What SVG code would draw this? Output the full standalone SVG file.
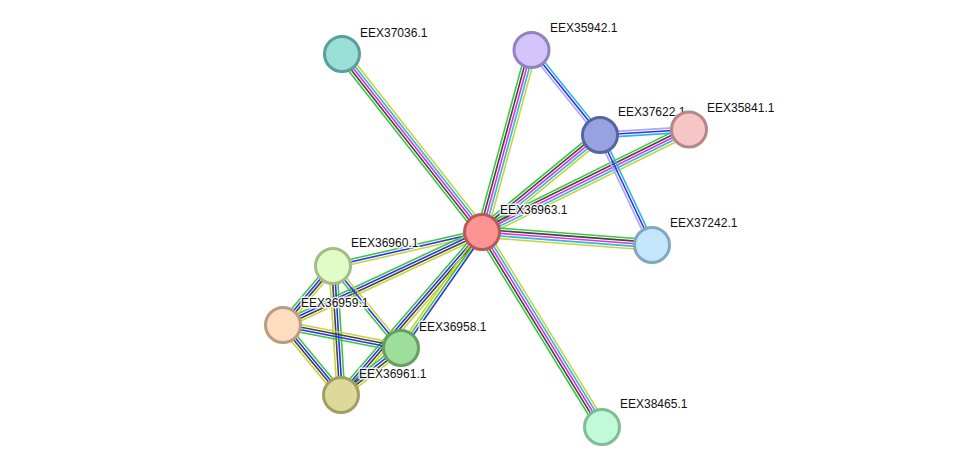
<svg xmlns="http://www.w3.org/2000/svg" width="976" height="472" viewBox="0 0 976 472">
<style>
line{stroke-width:1.6;fill:none}
.g{stroke:#3cc83c}.b{stroke:#3030f0}.k{stroke:#444}.m{stroke:#e030e0}.c{stroke:#30b8e0}.y{stroke:#c4d43c}.l{stroke:#a8a8f8}
circle{stroke-width:3}
text{font-family:"Liberation Sans",Arial,sans-serif;font-size:12px;fill:#111;stroke:rgba(255,255,255,0.85);stroke-width:3;paint-order:stroke;stroke-linejoin:round}
</style>
<rect width="976" height="472" fill="#fff"/>
<g id="connectors">
<g transform="translate(342,54) rotate(51.81)"><line x2="226.5" y1="5.2" y2="5.2" class="g"/><line x2="226.5" y1="2.6" y2="2.6" class="k"/><line x2="226.5" class="m"/><line x2="226.5" y1="-2.6" y2="-2.6" class="c"/><line x2="226.5" y1="-5.2" y2="-5.2" class="y"/></g>
<g transform="translate(482,232) rotate(-74.79)"><line x2="188.6" y1="-5.2" y2="-5.2" class="g"/><line x2="188.6" y1="-2.6" y2="-2.6" class="k"/><line x2="188.6" class="m"/><line x2="188.6" y1="2.6" y2="2.6" class="c"/><line x2="188.6" y1="5.2" y2="5.2" class="y"/></g>
<g transform="translate(482,232) rotate(-39.42)"><line x2="152.8" y1="-5.2" y2="-5.2" class="g"/><line x2="152.8" y1="-2.6" y2="-2.6" class="k"/><line x2="152.8" class="m"/><line x2="152.8" y1="2.6" y2="2.6" class="c"/><line x2="152.8" y1="5.2" y2="5.2" class="y"/></g>
<g transform="translate(482,232) rotate(-26.34)"><line x2="231" y1="-5.2" y2="-5.2" class="g"/><line x2="231" y1="-2.6" y2="-2.6" class="k"/><line x2="231" class="m"/><line x2="231" y1="2.6" y2="2.6" class="c"/><line x2="231" y1="5.2" y2="5.2" class="y"/></g>
<g transform="translate(482,232) rotate(4.37)"><line x2="170.5" y1="-5.2" y2="-5.2" class="g"/><line x2="170.5" y1="-2.6" y2="-2.6" class="k"/><line x2="170.5" class="m"/><line x2="170.5" y1="2.6" y2="2.6" class="c"/><line x2="170.5" y1="5.2" y2="5.2" class="y"/></g>
<g transform="translate(482,232) rotate(58.39)"><line x2="229" y1="5.2" y2="5.2" class="g"/><line x2="229" y1="2.6" y2="2.6" class="k"/><line x2="229" class="m"/><line x2="229" y1="-2.6" y2="-2.6" class="c"/><line x2="229" y1="-5.2" y2="-5.2" class="y"/></g>
<g transform="translate(531.5,50) rotate(51.13)"><line x2="109.2" y1="2.6" y2="2.6" class="l"/><line x2="109.2" class="b"/><line x2="109.2" y1="-2.6" y2="-2.6" class="c"/></g>
<g transform="translate(600,135) rotate(-3.54)"><line x2="89.2" y1="-2.6" y2="-2.6" class="l"/><line x2="89.2" class="b"/><line x2="89.2" y1="2.6" y2="2.6" class="c"/></g>
<g transform="translate(600,135) rotate(64.7)"><line x2="121.7" y1="2.6" y2="2.6" class="l"/><line x2="121.7" class="b"/><line x2="121.7" y1="-2.6" y2="-2.6" class="c"/></g>
<g transform="translate(333,266) rotate(-12.85)"><line x2="152.8" y1="-2.6" y2="-2.6" class="g"/><line x2="152.8" class="b"/><line x2="152.8" y1="2.6" y2="2.6" class="y"/></g>
<g transform="translate(283,325) rotate(-25.05)"><line x2="219.7" y1="-3.9" y2="-3.9" class="g"/><line x2="219.7" y1="-1.3" y2="-1.3" class="b"/><line x2="219.7" y1="1.3" y2="1.3" class="k"/><line x2="219.7" y1="3.9" y2="3.9" class="y"/></g>
<g transform="translate(341,395) rotate(-49.14)"><line x2="215.5" y1="-3.9" y2="-3.9" class="g"/><line x2="215.5" y1="-1.3" y2="-1.3" class="b"/><line x2="215.5" y1="1.3" y2="1.3" class="k"/><line x2="215.5" y1="3.9" y2="3.9" class="y"/></g>
<g transform="translate(401,348) rotate(-55.07)"><line x2="141.5" y1="-2.6" y2="-2.6" class="y"/><line x2="141.5" class="g"/><line x2="141.5" y1="2.6" y2="2.6" class="b"/></g>
<g transform="translate(283,325) rotate(-49.72)"><line x2="77.3" y1="-3.9" y2="-3.9" class="g"/><line x2="77.3" y1="-1.3" y2="-1.3" class="b"/><line x2="77.3" y1="1.3" y2="1.3" class="k"/><line x2="77.3" y1="3.9" y2="3.9" class="y"/></g>
<g transform="translate(333,266) rotate(86.45)"><line x2="129.2" y1="3.9" y2="3.9" class="y"/><line x2="129.2" y1="1.3" y2="1.3" class="k"/><line x2="129.2" y1="-1.3" y2="-1.3" class="b"/><line x2="129.2" y1="-3.9" y2="-3.9" class="g"/></g>
<g transform="translate(333,266) rotate(50.33)"><line x2="106.5" y1="2.6" y2="2.6" class="g"/><line x2="106.5" class="b"/><line x2="106.5" y1="-2.6" y2="-2.6" class="y"/></g>
<g transform="translate(283,325) rotate(11.03)"><line x2="120.2" y1="-3.9" y2="-3.9" class="y"/><line x2="120.2" y1="-1.3" y2="-1.3" class="k"/><line x2="120.2" y1="1.3" y2="1.3" class="b"/><line x2="120.2" y1="3.9" y2="3.9" class="g"/></g>
<g transform="translate(283,325) rotate(50.36)"><line x2="90.9" y1="3.9" y2="3.9" class="y"/><line x2="90.9" y1="1.3" y2="1.3" class="k"/><line x2="90.9" y1="-1.3" y2="-1.3" class="b"/><line x2="90.9" y1="-3.9" y2="-3.9" class="g"/></g>
<g transform="translate(341,395) rotate(-38.08)"><line x2="76.2" y1="-3.9" y2="-3.9" class="g"/><line x2="76.2" y1="-1.3" y2="-1.3" class="b"/><line x2="76.2" y1="1.3" y2="1.3" class="k"/><line x2="76.2" y1="3.9" y2="3.9" class="y"/></g>
</g>
<g id="EEX37036.1"><circle cx="342" cy="54" r="17.5" fill="#9ae0d8" stroke="#5c9e98"/><text x="360" y="37">EEX37036.1</text></g>
<g id="EEX35942.1"><circle cx="531.5" cy="50" r="17.5" fill="#d4c4fc" stroke="#9482c0"/><text x="550" y="32">EEX35942.1</text></g>
<g id="EEX37622.1"><circle cx="600" cy="135" r="17.5" fill="#97a2e0" stroke="#5664a0"/><text x="618" y="116">EEX37622.1</text></g>
<g id="EEX35841.1"><circle cx="689" cy="129.5" r="17.5" fill="#f6c6c6" stroke="#b58888"/><text x="707" y="112">EEX35841.1</text></g>
<g id="EEX37242.1"><circle cx="652" cy="245" r="17.5" fill="#c3e6fb" stroke="#80a8c0"/><text x="670" y="227">EEX37242.1</text></g>
<g id="EEX38465.1"><circle cx="602" cy="427" r="17.5" fill="#c1fad9" stroke="#80bc98"/><text x="620" y="408">EEX38465.1</text></g>
<g id="EEX36960.1"><circle cx="333" cy="266" r="17.5" fill="#e1fdc5" stroke="#a4bc88"/><text x="351" y="247">EEX36960.1</text></g>
<g id="EEX36959.1"><circle cx="283" cy="325" r="17.5" fill="#fddcc0" stroke="#bc9c80"/><text x="301" y="307">EEX36959.1</text></g>
<g id="EEX36958.1"><circle cx="401" cy="348" r="17.5" fill="#9ddf9a" stroke="#65a062"/><text x="419" y="331">EEX36958.1</text></g>
<g id="EEX36961.1"><circle cx="341" cy="395" r="17.5" fill="#ddd99a" stroke="#a0a060"/><text x="359" y="378">EEX36961.1</text></g>
<g id="EEX36963.1"><circle cx="482" cy="232" r="17.5" fill="#fe9393" stroke="#b85a5a"/><text x="500" y="214">EEX36963.1</text></g>
</svg>
